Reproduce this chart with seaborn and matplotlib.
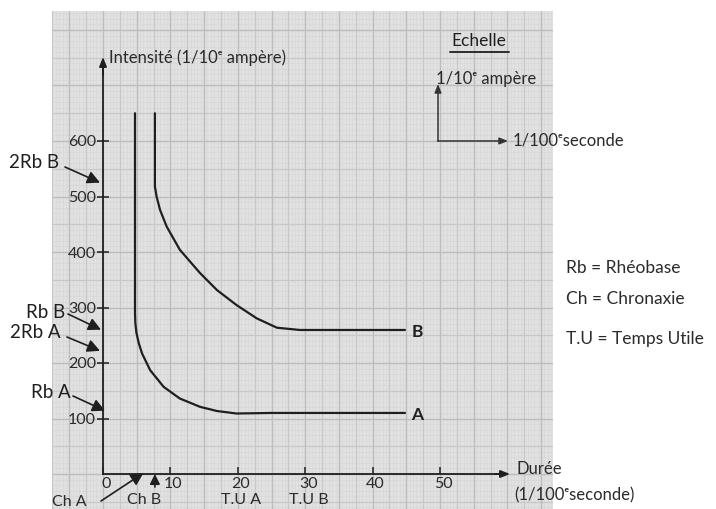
import matplotlib
matplotlib.use("Agg")
import matplotlib.pyplot as plt
import numpy as np
import pandas as pd
import seaborn as sns
from matplotlib.transforms import ScaledTranslation

# Courbe intensité-durée, fibre A
duree_a = [4.75, 4.75, 4.8, 4.95, 5.3, 5.8, 7.0, 9.0, 11.4, 14.4, 16.9, 19.8, 25.0, 35.0, 44.8]
intensite_a = [650, 290, 272, 255, 236, 217, 187, 157, 136, 121, 113.5, 109, 110, 110, 110]

# Courbe intensité-durée, fibre B
duree_b = [7.7, 7.7, 7.95, 8.46, 9.44, 11.4, 14.4, 16.9, 19.8, 22.8, 25.8, 29.2, 35.0, 44.8]
intensite_b = [650, 518, 500, 476, 446, 404, 362, 331.5, 304.5, 280.5, 263.6, 259.5, 259.5, 259.5]

# Graduations
y_ticks = [100, 200, 300, 400, 500, 600]
x_ticks = [0, 10, 20, 30, 40, 50]

# Repères sur l'axe des intensités
repere_labels = ["2Rb B", "Rb B", "2Rb A", "Rb A"]
repere_values = [525, 260, 222, 114]

# Repères sur l'axe des durées
chronaxie_labels = ["Ch A", "Ch B"]
chronaxie_values = [6.0, 7.7]
temps_utile_labels = ["T.U A", "T.U B"]
temps_utile_values = [20, 30]

legende = ["Rb = Rhéobase", "Ch = Chronaxie", "T.U = Temps Utile"]

sns.set_style("white")
plt.rcParams["font.family"] = ["Lato", "DejaVu Sans"]

INK = "#1f1f1f"
TXT = "#2a2a2a"
W, H = 716, 509
fig = plt.figure(figsize=(W / 100, H / 100), dpi=100)
fig.patch.set_facecolor("white")

# feuille de papier millimétré (en pixels)
PX0, PX1, PY0, PY1 = 52, 553, 11, 509
ax = fig.add_axes([PX0 / W, 1 - PY1 / H, (PX1 - PX0) / W, (PY1 - PY0) / H])

OX, OY = 103, 474      # origine
SX, SY = 6.74, 0.555   # pixels par unité


def dx(px):
    return (px - OX) / SX


def dy(py):
    return (OY - py) / SY


ax.set_xlim(dx(PX0), dx(PX1))
ax.set_ylim(dy(PY1), dy(PY0))
ax.set_facecolor("#e1e1e1")

# quadrillage du papier
for v in np.arange(np.ceil(dx(PX0) / 0.5) * 0.5, dx(PX1), 0.5):
    k = int(round(v / 0.5))
    if k % 10 == 0:
        ax.axvline(v, color="#bdbdbd", lw=1.0, zorder=0.3)
    elif k % 5 == 0:
        ax.axvline(v, color="#c8c8c8", lw=0.9, zorder=0.2)
    else:
        ax.axvline(v, color="#d7d7d7", lw=0.45, zorder=0.1)
for v in np.arange(np.ceil(dy(PY1) / 10) * 10, dy(PY0), 10):
    k = int(round(v / 10))
    if k % 10 == 0:
        ax.axhline(v, color="#bdbdbd", lw=1.0, zorder=0.3)
    elif k % 5 == 0:
        ax.axhline(v, color="#c8c8c8", lw=0.9, zorder=0.2)
    else:
        ax.axhline(v, color="#d7d7d7", lw=0.45, zorder=0.1)

# courbes
df_a = pd.DataFrame({"duree": duree_a, "intensite": intensite_a})
df_b = pd.DataFrame({"duree": duree_b, "intensite": intensite_b})
for df in (df_a, df_b):
    sns.lineplot(data=df, x="duree", y="intensite", sort=False, estimator=None,
                 color=INK, lw=1.6, ax=ax, zorder=3)
ax.set_xlabel("")
ax.set_ylabel("")

ax.text(46.6, intensite_a[-1] - 3, "A", ha="center", va="center", fontsize=12.5,
        fontweight="bold", color=INK)
ax.text(46.6, intensite_b[-1] - 3, "B", ha="center", va="center", fontsize=12.5,
        fontweight="bold", color=INK)

# axes avec flèches
for s in ("top", "right"):
    ax.spines[s].set_visible(False)
ax.spines["left"].set_position(("data", 0))
ax.spines["bottom"].set_position(("data", 0))
ax.spines["left"].set_bounds(0, dy(66))
ax.spines["bottom"].set_bounds(0, dx(502))
for s in ("left", "bottom"):
    ax.spines[s].set_color(INK)
    ax.spines[s].set_linewidth(1.3)
arrow_axis = dict(arrowstyle="-|>,head_length=0.55,head_width=0.22", color=INK,
                  lw=1.3, shrinkA=0, shrinkB=0)
ax.annotate("", xy=(0, dy(57)), xytext=(0, dy(75)), arrowprops=arrow_axis)
ax.annotate("", xy=(dx(510), 0), xytext=(dx(495), 0), arrowprops=arrow_axis)

ax.set_yticks(y_ticks)
ax.set_xticks(x_ticks)
ax.tick_params(axis="y", left=True, direction="inout", length=8, width=1.1,
               pad=1, labelsize=11.5, color=INK, labelcolor=TXT)
ax.tick_params(axis="x", bottom=True, direction="in", length=5, width=1.1,
               pad=2, labelsize=11.5, color=INK, labelcolor=TXT)
shift = ScaledTranslation(0.03, 0, fig.dpi_scale_trans)
for lbl in ax.get_xticklabels():
    lbl.set_transform(lbl.get_transform() + shift)

ax.text(dx(109), dy(58), "Intensité (1/10ᵉ ampère)", ha="left", va="center",
        fontsize=12, color=TXT)
ax.text(dx(517), dy(469), "Durée", ha="left", va="center", fontsize=12, color=TXT)
ax.text(dx(514), dy(495), "(1/100ᵉseconde)", ha="left", va="center", fontsize=12,
        color=TXT)

# échelle
ax.text(dx(479), dy(41), "Echelle", ha="center", va="center", fontsize=12.5, color=INK)
ax.plot([dx(450), dx(509)], [dy(52), dy(52)], color=INK, lw=1.3)
arrow_small = dict(arrowstyle="-|>,head_length=0.5,head_width=0.2", color="#333333",
                   lw=1.1, shrinkA=0, shrinkB=0)
ax.annotate("", xy=(dx(438), dy(84)), xytext=(dx(438), dy(141)), arrowprops=arrow_small)
ax.annotate("", xy=(dx(508), dy(141)), xytext=(dx(437.5), dy(141)), arrowprops=arrow_small)
ax.text(dx(436), dy(79), "1/10ᵉ ampère", ha="left", va="center", fontsize=12, color=TXT)
ax.text(dx(513), dy(140), "1/100ᵉseconde", ha="left", va="center", fontsize=12, color=TXT)

# repères Rb
arrow_rep = dict(arrowstyle="-|>,head_length=0.75,head_width=0.38", color=INK,
                 lw=1.2, shrinkA=0, shrinkB=0)
label_pos = [(9, 163), (26, 312), (10, 333), (31, 392)]
tail_pos = [(65, 167), (68, 314), (67, 337), (73, 396)]
tip_x = [100, 101, 100, 105]
for lab, val, (lx, ly), (tx, ty), px in zip(repere_labels, repere_values,
                                            label_pos, tail_pos, tip_x):
    ax.text(dx(lx), dy(ly), lab, ha="left", va="center", fontsize=13.5, color=INK)
    ax.annotate("", xy=(dx(px), val), xytext=(dx(tx), dy(ty)), arrowprops=arrow_rep,
                annotation_clip=False)

# repères Ch et T.U
ax.text(dx(69), dy(502), chronaxie_labels[0], ha="center", va="center", fontsize=11.5,
        color=TXT)
ax.text(dx(144), dy(500), chronaxie_labels[1], ha="center", va="center", fontsize=11.5,
        color=TXT)
ax.annotate("", xy=(chronaxie_values[0], dy(473)), xytext=(dx(101), dy(501)),
            arrowprops=arrow_rep, annotation_clip=False)
ax.annotate("", xy=(chronaxie_values[1], dy(474)), xytext=(chronaxie_values[1], dy(487)),
            arrowprops=dict(arrow_rep, arrowstyle="-|>,head_length=0.6,head_width=0.3"),
            annotation_clip=False)
for lab, val in zip(temps_utile_labels, temps_utile_values):
    ax.text(val + 0.5, dy(500), lab, ha="center", va="center", fontsize=11.5, color=TXT)

# légende
for txt, y in zip(legende, (268, 299, 339)):
    fig.text(566 / W, 1 - y / H, txt, ha="left", va="center", fontsize=12.5, color=TXT)

fig.savefig("out.png", dpi=100, facecolor="white")
